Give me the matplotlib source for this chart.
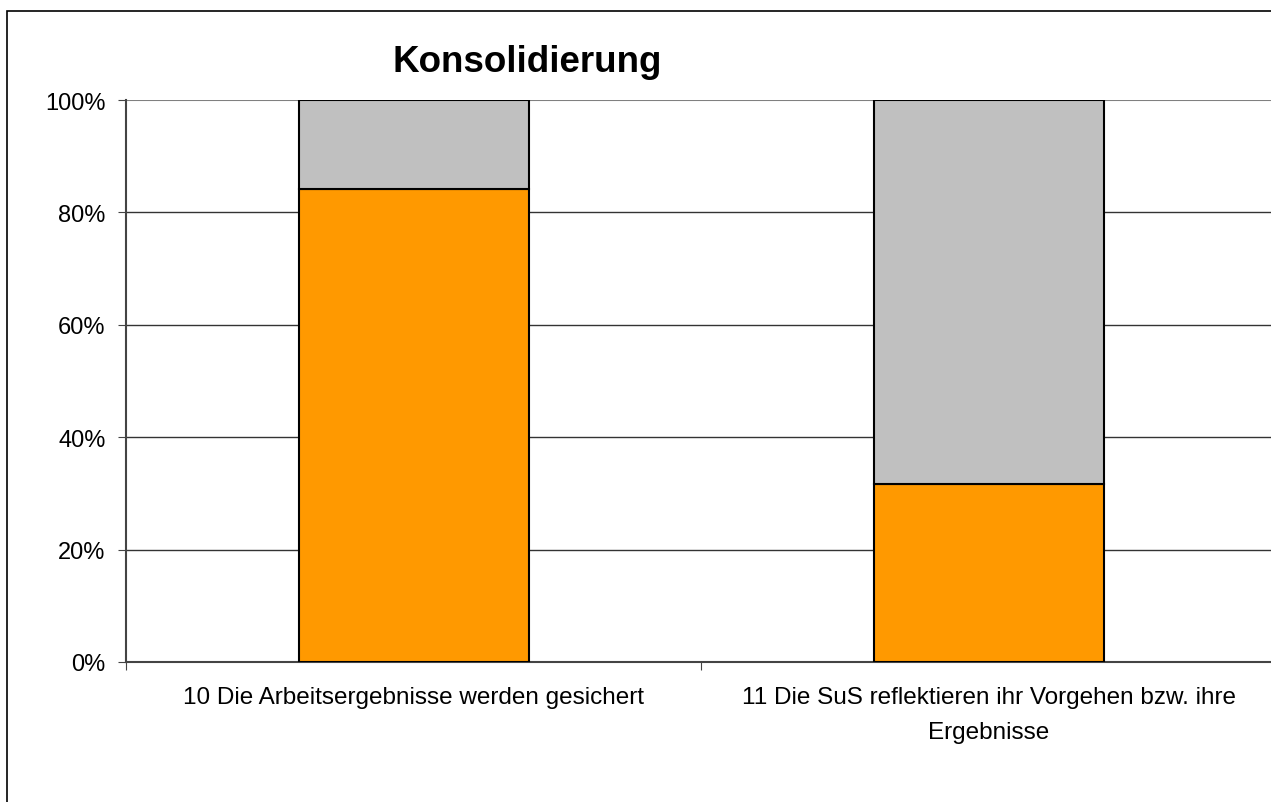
import matplotlib.pyplot as plt
from matplotlib.patches import Rectangle
from matplotlib.ticker import PercentFormatter

categories = ["10 Die Arbeitsergebnisse werden gesichert",
              "11 Die SuS reflektieren ihr Vorgehen bzw. ihre\nErgebnisse"]
ja = [84.2, 31.6]
nein = [15.8, 68.4]

plt.rcParams['font.family'] = ['Liberation Sans', 'DejaVu Sans']

fig = plt.figure(figsize=(12.71, 8.03), dpi=100)
ax = fig.add_axes([126 / 1271, 1 - 663 / 803, 1150 / 1271, 562 / 803])

x = [0.5, 1.5]
ax.bar(x, ja, width=0.4, color="#FF9900", edgecolor="black", linewidth=1.5, zorder=3)
ax.bar(x, nein, width=0.4, bottom=ja, color="#C0C0C0", edgecolor="black", linewidth=1.5, zorder=3)

ax.set_xlim(0, 2)
ax.set_ylim(0, 100)
ax.set_yticks([0, 20, 40, 60, 80, 100])
ax.yaxis.set_major_formatter(PercentFormatter(decimals=0))
for v in [20, 40, 60, 80]:
    ax.axhline(v, color="#333333", linewidth=1, zorder=1)
ax.axhline(100, color="#808080", linewidth=1.5, zorder=1)

ax.set_xticks([0, 1, 2])
ax.set_xticklabels([])
ax.set_xticks(x, minor=True)
ax.set_xticklabels(categories, minor=True, fontsize=17.5, linespacing=1.8)
ax.tick_params(axis="x", which="minor", length=0, pad=17)
ax.tick_params(axis="x", which="major", length=5.8, color="#444444")
ax.tick_params(axis="y", length=5.8, color="#444444", labelsize=17, pad=9)

for s in ["top", "right"]:
    ax.spines[s].set_visible(False)
for s in ["left", "bottom"]:
    ax.spines[s].set_color("#444444")
    ax.spines[s].set_linewidth(1.5)

fig.text(527 / 1271, 1 - 62 / 803, "Konsolidierung", fontsize=26.5, fontweight="bold",
         ha="center", va="center")

fig.patches.append(Rectangle((7 / 1271, -0.05), 1.1, 1.05 - 12 / 803, transform=fig.transFigure,
                             fill=False, edgecolor="black", linewidth=1.2))

fig.savefig("out.png", dpi=100)
